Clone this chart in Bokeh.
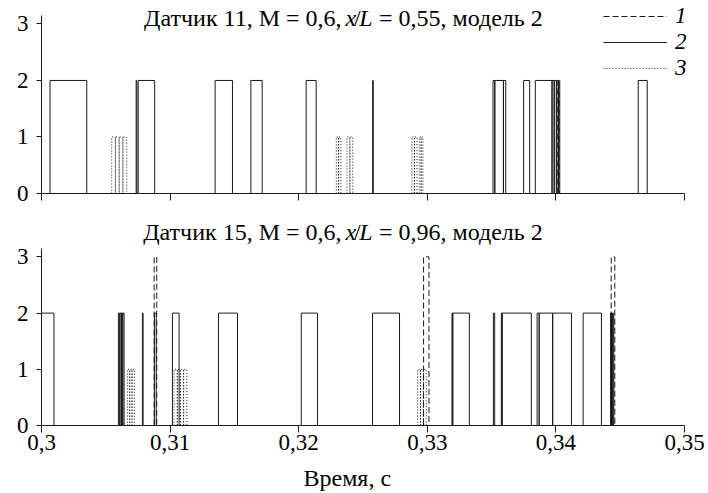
from bokeh.plotting import figure
from bokeh.models import Range1d, Label, Legend, LegendItem, FixedTicker, Title
from bokeh.layouts import column
from bokeh.embed import file_html
from bokeh.resources import INLINE

# ---------------- data (time in s, pulse level) ----------------
x_ticks = [0.30, 0.31, 0.32, 0.33, 0.34, 0.35]
x_tick_labels = ["0,3", "0,31", "0,32", "0,33", "0,34", "0,35"]
y_ticks = [0, 1, 2, 3]
series_labels = ["1", "2", "3"]

# Panel 1: Датчик 11
top_s1_start = [0.34010]
top_s1_end = [0.34025]
top_s1_level = [2]

top_s2_start = [0.30066, 0.30736, 0.30752, 0.31350, 0.31628, 0.32058, 0.32575,
                0.33511, 0.33525, 0.33592, 0.33749, 0.33840, 0.33970, 0.33988,
                0.34006, 0.34020, 0.34640]
top_s2_end = [0.30352, 0.30742, 0.30880, 0.31485, 0.31716, 0.32136, 0.32580,
              0.33525, 0.33592, 0.33610, 0.33796, 0.33970, 0.33985, 0.34003,
              0.34018, 0.34030, 0.34710]
top_s2_level = [2] * 17

top_s3_start = [0.30546, 0.30575, 0.30604, 0.30633, 0.32292, 0.32310, 0.32375,
                0.32398, 0.32881, 0.32900, 0.32938, 0.32952]
top_s3_end = [0.30575, 0.30604, 0.30633, 0.30663, 0.32310, 0.32328, 0.32398,
              0.32420, 0.32900, 0.32920, 0.32952, 0.32966]
top_s3_level = [1] * 12

# Panel 2: Датчик 15
bot_s1_start = [0.30876, 0.32971, 0.34430]
bot_s1_end = [0.30896, 0.33013, 0.34458]
bot_s1_level = [3, 3, 3]

bot_s2_start = [0.30000, 0.30598, 0.30610, 0.30622, 0.30632, 0.30785, 0.30878,
                0.31018, 0.31376, 0.32020, 0.32574, 0.33192, 0.33198, 0.33514,
                0.33576, 0.33582, 0.33854, 0.33870, 0.33975, 0.34212, 0.34425,
                0.34434, 0.34443]
bot_s2_end = [0.30097, 0.30608, 0.30620, 0.30632, 0.30642, 0.30790, 0.30892,
              0.31070, 0.31524, 0.32146, 0.32784, 0.33198, 0.33327, 0.33524,
              0.33582, 0.33809, 0.33870, 0.33975, 0.34121, 0.34354, 0.34432,
              0.34441, 0.34450]
bot_s2_level = [2] * 23

bot_s3_start = [0.30668, 0.30686, 0.30704, 0.31031, 0.31056, 0.31080, 0.31105,
                0.32925, 0.32947, 0.32970]
bot_s3_end = [0.30686, 0.30704, 0.30722, 0.31056, 0.31080, 0.31105, 0.31130,
              0.32947, 0.32970, 0.32992]
bot_s3_level = [1] * 10

FONT = "Liberation Serif"
FS = "23px"
TFS = "24px"
INK = "#1a1a1a"
DASHES = ["6 3", "solid", "1 2"]
X_END = 0.35 + 16 / 12860.0   # frame a little wider than the axis, so the legend fits


def pulse_paths(starts, ends, levels):
    xs = [[s, s, e, e] for s, e in zip(starts, ends)]
    ys = [[0, h, h, 0] for h in levels]
    return xs, ys


def make_panel(series, show_x_labels, mb_top, mb_bottom, fh, y_end):
    p = figure(frame_width=659, frame_height=fh, output_backend="svg",
               toolbar_location=None, min_border_left=41, min_border_right=5,
               min_border_top=mb_top, min_border_bottom=mb_bottom,
               x_range=Range1d(0.30, X_END), y_range=Range1d(0, y_end))
    p.xgrid.visible = False
    p.ygrid.visible = False
    p.outline_line_color = None
    p.background_fill_color = "white"
    p.border_fill_color = "white"

    rends = []
    for (st, en, lv), dash in zip(series, DASHES):
        xs, ys = pulse_paths(st, en, lv)
        r = p.multi_line(xs, ys, line_color=INK, line_width=1, line_dash=dash,
                         line_join="miter")
        rends.append(r)

    for ax in (p.xaxis[0], p.yaxis[0]):
        ax.axis_line_color = INK
        ax.major_tick_line_color = INK
        ax.minor_tick_line_color = None
        ax.major_tick_in = 0
        ax.major_label_text_font = FONT
        ax.major_label_text_font_size = FS
        ax.major_label_text_color = "black"

    p.xaxis.ticker = FixedTicker(ticks=x_ticks)
    p.xaxis.bounds = (0.30, 0.35)
    p.xaxis.major_tick_out = 7
    if show_x_labels:
        p.xaxis.major_label_overrides = {t: l for t, l in zip(x_ticks, x_tick_labels)}
        p.xaxis.major_label_standoff = 2
    else:
        p.xaxis.major_label_overrides = {t: "" for t in x_ticks}
        p.xaxis.major_label_text_font_size = "0px"
        p.xaxis.major_label_standoff = 0

    p.yaxis.ticker = FixedTicker(ticks=y_ticks)
    p.yaxis.bounds = (0, 3.15)
    p.yaxis.major_tick_out = 5
    p.yaxis.major_label_standoff = 8
    return p, rends


def add_title(p, y, left_text, right_text):
    kw = dict(text_font=FONT, text_font_size=TFS, text_color="black",
              text_baseline="middle", y=y)
    p.add_layout(Label(x=0.323330, text=left_text, text_align="right", **kw))
    p.add_layout(Label(x=0.323640, text="x", text_align="left",
                       text_font_style="italic", **kw))
    p.add_layout(Label(x=0.324300, text="/", text_align="left", **kw))
    p.add_layout(Label(x=0.324700, text="L", text_align="left",
                       text_font_style="italic", **kw))
    p.add_layout(Label(x=0.326240, text=right_text, text_align="left", **kw))


top_series = [(top_s1_start, top_s1_end, top_s1_level),
              (top_s2_start, top_s2_end, top_s2_level),
              (top_s3_start, top_s3_end, top_s3_level)]
bot_series = [(bot_s1_start, bot_s1_end, bot_s1_level),
              (bot_s2_start, bot_s2_end, bot_s2_level),
              (bot_s3_start, bot_s3_end, bot_s3_level)]

# top: frame from y=2 to y=193 (56.5 px per unit); bottom: 205..425 (56.19 px/unit)
p1, r1 = make_panel(top_series, False, 2, 12, 191, 3.38)
p2, r2 = make_panel(bot_series, True, 0, 66, 220, 3.915)

add_title(p1, 3.10, "Датчик 11, М = 0,6,", "= 0,55, модель 2")
add_title(p2, 3.435, "Датчик 15, М = 0,6,", "= 0,96, модель 2")

p2.add_layout(Title(text="Время, с", align="left", offset=262, standoff=21,
                    text_font=FONT, text_font_size=TFS, text_font_style="normal",
                    text_color="black"), "below")

legend = Legend(items=[LegendItem(label=l, renderers=[r]) for l, r in zip(series_labels, r1)],
                location=(562, 112), glyph_width=64, glyph_height=24,
                label_height=24, label_standoff=8, spacing=0, padding=0,
                label_text_font=FONT, label_text_font_size=FS,
                label_text_line_height=1.0,
                label_text_font_style="italic", label_text_color="black",
                border_line_color=None, background_fill_alpha=0)
p1.add_layout(legend)

layout = column(p1, p2, spacing=0)
open("out.html", "w").write(file_html(layout, INLINE))
